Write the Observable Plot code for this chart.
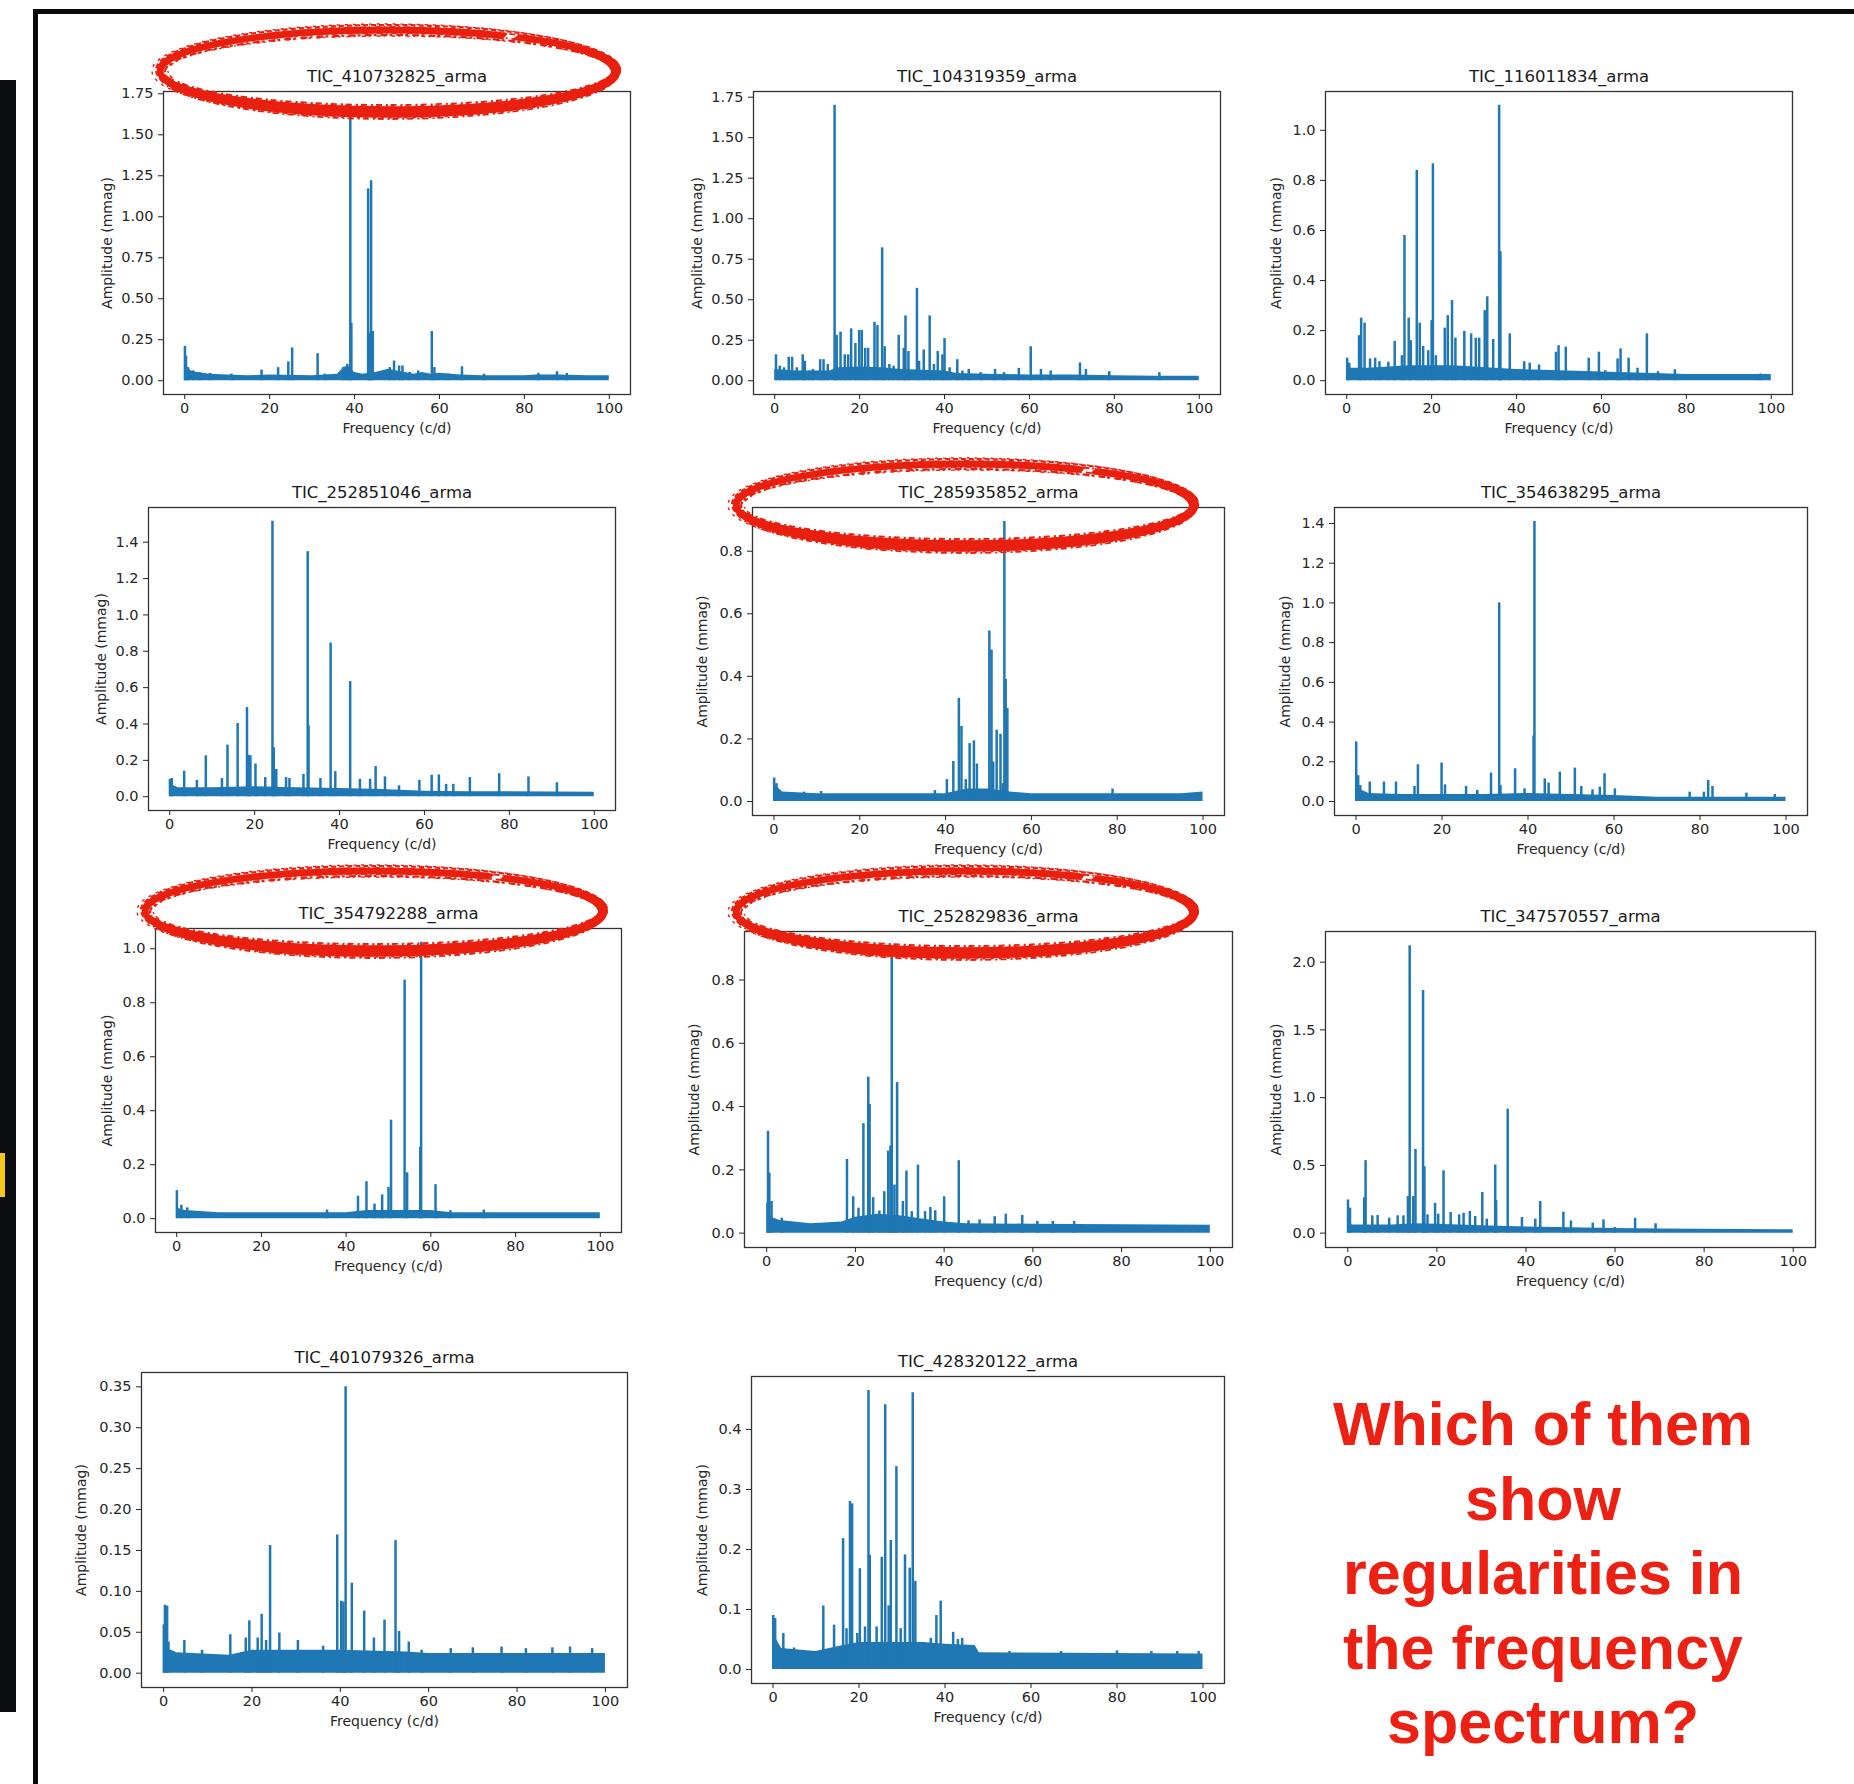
<!DOCTYPE html>
<html>
<head>
<meta charset="utf-8">
<script src="https://cdn.jsdelivr.net/npm/d3@7"></script>
<script src="https://cdn.jsdelivr.net/npm/@observablehq/plot@0.6"></script>
<style>
  html, body { margin: 0; padding: 0; background: #ffffff; }
  #page { position: relative; width: 1854px; height: 1784px; overflow: hidden; background: #ffffff; }
  .abs { position: absolute; }
  #question {
    position: absolute; left: 1243px; top: 1387px; width: 600px;
    text-align: center; color: #ec2113;
    font-family: "Liberation Sans", Arial, sans-serif; font-weight: bold;
    font-size: 61px; line-height: 74.5px;
  }
</style>
</head>
<body>
<div id="page"></div>
<script>
// ---------------- DATA ----------------
const titles = [
  "TIC_410732825_arma", "TIC_104319359_arma", "TIC_116011834_arma",
  "TIC_252851046_arma", "TIC_285935852_arma", "TIC_354638295_arma",
  "TIC_354792288_arma", "TIC_252829836_arma", "TIC_347570557_arma",
  "TIC_401079326_arma", "TIC_428320122_arma"
];
const xLabel = "Frequency (c/d)";
const yLabel = "Amplitude (mmag)";
const xTicks = [0, 20, 40, 60, 80, 100];

// y tick values per panel
const yTicks410732825 = [0, 0.25, 0.5, 0.75, 1.0, 1.25, 1.5, 1.75];
const yTicks104319359 = [0, 0.25, 0.5, 0.75, 1.0, 1.25, 1.5, 1.75];
const yTicks116011834 = [0, 0.2, 0.4, 0.6, 0.8, 1.0];
const yTicks252851046 = [0, 0.2, 0.4, 0.6, 0.8, 1.0, 1.2, 1.4];
const yTicks285935852 = [0, 0.2, 0.4, 0.6, 0.8];
const yTicks354638295 = [0, 0.2, 0.4, 0.6, 0.8, 1.0, 1.2, 1.4];
const yTicks354792288 = [0, 0.2, 0.4, 0.6, 0.8, 1.0];
const yTicks252829836 = [0, 0.2, 0.4, 0.6, 0.8];
const yTicks347570557 = [0, 0.5, 1.0, 1.5, 2.0];
const yTicks401079326 = [0, 0.05, 0.1, 0.15, 0.2, 0.25, 0.3, 0.35];
const yTicks428320122 = [0, 0.1, 0.2, 0.3, 0.4];

// peaks: [frequency (c/d), amplitude (mmag)]
const peaks410732825 = [[0.05,0.21],[0.3,0.15],[0.8,0.08],[2,0.06],[3.5,0.05],[6,0.045],[11,0.04],[18.1,0.065],[22,0.08],[24.4,0.115],[25.3,0.2],[31.3,0.165],[33,0.04],[37.3,0.08],[38.3,0.1],[39.0,1.68],[39.25,0.35],[43.2,1.17],[43.5,0.29],[43.9,1.22],[44.3,0.3],[48.3,0.08],[49.3,0.12],[50.5,0.09],[51.3,0.09],[53,0.05],[55,0.06],[58.2,0.3],[58.8,0.08],[62,0.04],[65.3,0.085],[70.5,0.04],[83.3,0.045],[87.7,0.055],[90,0.045]];
const peaks104319359 = [[0.3,0.16],[1.2,0.09],[2.2,0.08],[3.3,0.145],[4.1,0.145],[5.2,0.08],[6.6,0.16],[7.1,0.12],[8.2,0.06],[9,0.07],[10.7,0.13],[11.5,0.13],[12.5,0.10],[14.1,1.70],[14.6,0.28],[15.5,0.30],[16.5,0.16],[17.3,0.16],[18.0,0.32],[19.0,0.23],[19.9,0.31],[20.5,0.31],[21.3,0.2],[22,0.2],[23.5,0.36],[24.2,0.34],[25.3,0.82],[25.9,0.21],[27,0.1],[28,0.09],[29.2,0.28],[30.4,0.2],[30.8,0.40],[31.5,0.18],[33.5,0.57],[34,0.12],[35.1,0.19],[36.5,0.40],[37.5,0.1],[38.4,0.18],[39.5,0.16],[40,0.26],[41.2,0.08],[43,0.13],[44.2,0.06],[45.7,0.07],[48.5,0.05],[51.9,0.07],[54,0.05],[57.5,0.076],[60.3,0.21],[62.7,0.07],[65,0.06],[71.9,0.11],[73.3,0.07],[78.8,0.056],[90.6,0.05]];
const peaks116011834 = [[0.1,0.09],[0.6,0.07],[2.9,0.18],[3.4,0.25],[4.2,0.23],[5.5,0.087],[6.7,0.09],[7.7,0.076],[9.8,0.074],[11.3,0.157],[13,0.10],[13.6,0.58],[14.6,0.25],[15.1,0.16],[16.5,0.84],[17.2,0.23],[18,0.137],[19.2,0.12],[20,0.24],[20.3,0.866],[21,0.1],[23.1,0.21],[23.8,0.26],[24.8,0.32],[25.6,0.17],[27.7,0.197],[29.3,0.187],[30.4,0.17],[31.2,0.17],[32.5,0.28],[33.1,0.335],[34.5,0.165],[35.9,1.10],[36.2,0.515],[38.4,0.187],[41.8,0.076],[43.1,0.07],[45.3,0.063],[49.3,0.114],[49.9,0.14],[51.6,0.134],[57,0.09],[59.4,0.114],[60.9,0.04],[63.8,0.087],[64.5,0.127],[66.4,0.09],[68.5,0.05],[70.7,0.187],[73.3,0.036],[77.3,0.044],[97.5,0.027]];
const peaks252851046 = [[0.05,0.096],[0.5,0.1],[3.4,0.14],[6.4,0.09],[8.5,0.225],[12.3,0.1],[13.6,0.284],[16,0.403],[18.2,0.49],[18.6,0.228],[19,0.225],[20.2,0.18],[22.5,0.105],[24.2,1.515],[24.5,0.27],[25.1,0.15],[27.4,0.105],[28.2,0.1],[31.5,0.123],[32.5,1.348],[32.7,0.39],[35.5,0.1],[37.9,0.845],[39,0.138],[42.5,0.633],[44.8,0.096],[47.2,0.096],[48.5,0.166],[50.7,0.109],[54,0.06],[58.8,0.09],[61.7,0.118],[63.4,0.12],[65.1,0.068],[66.8,0.068],[70.7,0.105],[77.6,0.127],[84.5,0.109],[91.2,0.077]];
const peaks285935852 = [[0.05,0.075],[0.6,0.057],[7,0.03],[11,0.032],[37.5,0.035],[40.3,0.07],[41.8,0.128],[43.1,0.33],[43.7,0.24],[44.7,0.07],[45.6,0.185],[46.6,0.194],[47.3,0.12],[50.2,0.545],[50.7,0.484],[51.1,0.126],[51.9,0.228],[52.8,0.215],[53.3,0.057],[53.7,0.895],[54.0,0.39],[54.4,0.297],[78.9,0.04]];
const peaks354638295 = [[0.05,0.30],[0.5,0.13],[1,0.08],[3.2,0.098],[6.5,0.098],[9.3,0.098],[13.6,0.076],[14.4,0.185],[19.9,0.194],[20.7,0.084],[25.6,0.076],[28.2,0.056],[31.4,0.143],[33.3,1.0],[33.6,0.08],[37,0.165],[39.2,0.064],[41.3,0.33],[41.5,1.41],[43.9,0.114],[44.8,0.093],[47.4,0.148],[50.9,0.168],[52.4,0.076],[55,0.059],[56.7,0.072],[57.8,0.14],[60.2,0.064],[77.6,0.047],[80.9,0.047],[81.9,0.106],[82.9,0.076],[90.8,0.042],[97.4,0.035]];
const peaks354792288 = [[0.05,0.104],[1.1,0.05],[2.5,0.04],[35.5,0.032],[42.8,0.083],[44.8,0.137],[46.7,0.054],[48.5,0.088],[50.0,0.116],[50.6,0.365],[53.8,0.884],[54.4,0.17],[57.5,0.264],[57.7,1.024],[61.1,0.126],[64.6,0.03],[72.5,0.032]];
const peaks252829836 = [[0.3,0.322],[0.6,0.19],[1.1,0.1],[3.4,0.047],[18.1,0.233],[19.5,0.115],[20.7,0.079],[21.8,0.346],[22.9,0.493],[23.2,0.407],[24,0.112],[25.4,0.07],[26.5,0.131],[27.4,0.259],[27.9,0.275],[28.2,0.908],[28.8,0.152],[29.4,0.476],[30.7,0.1],[31.5,0.196],[32.7,0.068],[34.1,0.215],[35.7,0.068],[36.9,0.081],[38,0.071],[40,0.115],[43.3,0.229],[45.5,0.039],[48,0.042],[51.4,0.052],[53.9,0.06],[57.6,0.056],[61,0.037],[64.5,0.037],[69.3,0.037]];
const peaks347570557 = [[0.05,0.245],[0.5,0.184],[3.7,0.26],[4,0.535],[5.5,0.128],[6.7,0.13],[9.3,0.11],[11.2,0.128],[12.5,0.128],[13.5,0.27],[13.9,2.12],[14.7,0.27],[15.2,0.618],[16.9,1.79],[17.2,0.49],[17.9,0.135],[19.6,0.22],[20.3,0.14],[21.5,0.46],[23.1,0.152],[25,0.135],[26,0.147],[27.4,0.16],[28.6,0.123],[30.2,0.30],[31.2,0.103],[33.1,0.503],[33.3,0.24],[35.9,0.915],[39.1,0.115],[42.1,0.103],[43.2,0.233],[48.4,0.155],[50.1,0.09],[55,0.074],[57.4,0.098],[59.9,0.042],[64.5,0.11],[69.1,0.069]];
const peaks401079326 = [[0.05,0.059],[0.3,0.083],[0.8,0.082],[1.1,0.038],[4.7,0.04],[8.7,0.028],[15.1,0.047],[18.6,0.043],[19.4,0.064],[21.3,0.043],[22.2,0.072],[23.2,0.04],[24.1,0.156],[26.2,0.049],[30.4,0.04],[36.1,0.033],[39.3,0.169],[40.2,0.088],[40.7,0.087],[41.2,0.35],[42.6,0.11],[45.4,0.076],[47.6,0.043],[50,0.065],[52.5,0.162],[53.3,0.051],[55.5,0.038],[58.4,0.028],[65,0.03],[70,0.031],[76.5,0.032],[82,0.03],[88,0.031],[92,0.032],[97,0.03]];
const peaks428320122 = [[0.05,0.09],[0.5,0.085],[2.4,0.06],[4.9,0.036],[8,0.03],[11.7,0.106],[14.2,0.074],[16.3,0.218],[17.1,0.068],[17.9,0.28],[18.4,0.276],[19.6,0.06],[20.2,0.168],[21.4,0.071],[22.2,0.465],[22.5,0.19],[24.1,0.071],[25.3,0.187],[26.1,0.441],[26.9,0.106],[27.4,0.215],[28.7,0.338],[29.7,0.068],[30.7,0.191],[31.8,0.169],[32.5,0.461],[33.1,0.147],[35,0.045],[36.7,0.052],[38,0.09],[39,0.114],[41.9,0.062],[43,0.05],[44,0.052],[46.5,0.035],[55,0.03],[67,0.03],[80,0.031],[88,0.03],[94,0.03],[99,0.03]];

// noise floor (upper edge of the dense band): [frequency, amplitude]
const noise410732825 = [[0,0.2],[0.3,0.12],[0.8,0.07],[2,0.055],[4,0.045],[6,0.04],[10,0.035],[15,0.03],[20,0.035],[30,0.03],[36,0.04],[37.5,0.08],[38.5,0.09],[40,0.05],[42,0.04],[45,0.05],[48,0.07],[50,0.06],[52,0.05],[54,0.04],[56,0.05],[58,0.04],[60,0.045],[65,0.035],[70,0.03],[80,0.03],[83,0.035],[88,0.035],[95,0.03],[100,0.03]];
const noise104319359 = [[0,0.07],[5,0.06],[10,0.06],[13,0.06],[15,0.08],[20,0.085],[25,0.08],[30,0.07],[35,0.065],[40,0.06],[43,0.045],[50,0.04],[60,0.035],[70,0.035],[80,0.03],[90,0.028],[100,0.028]];
const noise116011834 = [[0,0.08],[1,0.05],[5,0.05],[10,0.055],[15,0.06],[20,0.06],[25,0.06],[30,0.055],[35,0.05],[40,0.045],[50,0.04],[60,0.035],[70,0.03],[80,0.025],[100,0.025]];
const noise252851046 = [[0,0.07],[2,0.05],[10,0.05],[20,0.055],[30,0.05],[40,0.045],[50,0.04],[60,0.03],[70,0.028],[100,0.025]];
const noise285935852 = [[0,0.07],[0.5,0.05],[2,0.03],[10,0.025],[40,0.025],[45,0.04],[50,0.04],[55,0.03],[60,0.025],[95,0.025],[100,0.03]];
const noise354638295 = [[0,0.12],[1,0.06],[3,0.04],[10,0.035],[30,0.035],[40,0.04],[50,0.035],[60,0.03],[70,0.022],[100,0.022]];
const noise354792288 = [[0,0.04],[2,0.03],[10,0.022],[40,0.022],[45,0.03],[60,0.03],[65,0.022],[100,0.022]];
const noise252829836 = [[0,0.1],[1,0.05],[3,0.04],[10,0.03],[17,0.035],[20,0.05],[25,0.06],[30,0.055],[35,0.045],[40,0.035],[45,0.03],[60,0.028],[100,0.025]];
const noise347570557 = [[0,0.12],[1,0.06],[5,0.06],[10,0.06],[15,0.07],[20,0.065],[30,0.055],[40,0.045],[50,0.04],[60,0.035],[70,0.03],[100,0.025]];
const noise401079326 = [[0,0.06],[1,0.03],[3,0.025],[15,0.022],[20,0.028],[40,0.028],[55,0.026],[60,0.024],[100,0.024]];
const noise428320122 = [[0,0.06],[2,0.035],[10,0.03],[15,0.038],[20,0.045],[30,0.045],[35,0.045],[40,0.042],[47,0.04],[48,0.028],[100,0.026]];

const peaksList = [peaks410732825, peaks104319359, peaks116011834, peaks252851046, peaks285935852, peaks354638295, peaks354792288, peaks252829836, peaks347570557, peaks401079326, peaks428320122];
const noiseList = [noise410732825, noise104319359, noise116011834, noise252851046, noise285935852, noise354638295, noise354792288, noise252829836, noise347570557, noise401079326, noise428320122];
const yTicksList = [yTicks410732825, yTicks104319359, yTicks116011834, yTicks252851046, yTicks285935852, yTicks354638295, yTicks354792288, yTicks252829836, yTicks347570557, yTicks401079326, yTicks428320122];
const yFormats = [".2f", ".2f", ".1f", ".1f", ".1f", ".1f", ".1f", ".1f", ".1f", ".2f", ".1f"];

// ---------------- LAYOUT (frame boxes on the page: left, top, right, bottom) ----------------
const frames = [
  [163, 91, 630, 394], [753, 91, 1220, 394], [1325, 91, 1792, 394],
  [148, 507, 615, 810], [752, 507, 1224, 815], [1334, 507, 1807, 815],
  [155, 928, 621, 1232], [744, 931, 1232, 1247], [1325, 931, 1815, 1247],
  [141, 1372, 627, 1687], [751, 1376, 1224, 1683]
];
const yLabelOffsets = [-56, -56, -49, -47, -50, -49, -48, -50, -49, -60, -49];

const blue = "#1f77b4";
const page = document.getElementById("page");

function addDiv(l, t, w, h, bg) {
  const d = document.createElement("div");
  d.className = "abs";
  Object.assign(d.style, {left: l + "px", top: t + "px", width: w + "px", height: h + "px", background: bg});
  page.appendChild(d);
}
// screenshot surroundings
addDiv(0, 80, 16, 1632, "#0b0d11");
addDiv(0, 1153, 5, 44, "#f4c81b");
addDiv(33, 9, 1821, 5, "#0a0a0a");
addDiv(33, 9, 5, 1775, "#0a0a0a");

const mL = 80, mT = 36, mR = 12, mB = 52;
frames.forEach((fr, i) => {
  const [L, T, R, B] = fr;
  const peaks = peaksList[i];
  const M = d3.max(peaks, d => d[1]);
  const plot = Plot.plot({
    width: R - L + mL + mR,
    height: B - T + mT + mB,
    marginLeft: mL, marginTop: mT, marginRight: mR, marginBottom: mB,
    x: {domain: [-5, 105]},
    y: {domain: [-0.05 * M, 1.05 * M]},
    style: {fontFamily: "'DejaVu Sans', sans-serif", fontSize: "14.5px", color: "#262626", background: "none", overflow: "visible"},
    marks: [
      Plot.areaY(noiseList[i], {x: d => d[0], y1: d => 0, y2: d => d[1], fill: blue}),
      Plot.ruleX(peaks, {x: d => d[0], y1: d => 0, y2: d => d[1], stroke: blue, strokeWidth: 2.5}),
      Plot.frame({stroke: "#333", strokeWidth: 1.3}),
      Plot.axisX({ticks: xTicks, tickSize: 5, tickPadding: 3, label: null}),
      Plot.axisY({ticks: yTicksList[i], tickFormat: d3.format(yFormats[i]), tickSize: 5, tickPadding: 5, label: null}),
      Plot.text([titles[i]], {text: d => d, frameAnchor: "top", lineAnchor: "middle", textAnchor: "middle", dy: -15, fontSize: 16.5, fill: "#1a1a1a"}),
      Plot.text([xLabel], {text: d => d, frameAnchor: "bottom", lineAnchor: "middle", textAnchor: "middle", dy: 34, fontSize: 14, fill: "#262626"}),
      Plot.text([yLabel], {text: d => d, frameAnchor: "left", lineAnchor: "middle", textAnchor: "middle", dx: yLabelOffsets[i], rotate: -90, fontSize: 14, fill: "#262626"})
    ]
  });
  plot.style.position = "absolute";
  plot.style.left = (L - mL) + "px";
  plot.style.top = (T - mT) + "px";
  page.appendChild(plot);
});

// ---------------- hand-drawn red ellipses around four titles ----------------
const ellipses = [[388, 71, 228, 41], [965, 505, 229, 41], [374, 911, 229, 40], [965, 912, 229, 41]];
const solidStrokes = [[0,0,0,0,6.5],[1,-2,2,-2,3.5],[-1,2,-2,2,3.5],[2,1,1,3,2.5],[-2,-1,-1,-3,2.5]];
const roughStrokes = [[0,-1,4,4,2.2,"5 3"],[1,1,-4,-4,2.2,"7 2 3 4"],[-2,0,6,6,1.4,"3 5"],[2,0,-6,-6,1.4,"4 3 2 6"],[0,2,2,5,1.8,"2 4 6 3"],[0,-2,-2,-5,1.8,"6 3 2 4"]];
const svg = d3.select(page).append("svg")
  .attr("width", 1854).attr("height", 1784)
  .style("position", "absolute").style("left", "0px").style("top", "0px");
ellipses.forEach(([cx, cy, rx, ry]) => {
  solidStrokes.forEach(([dx, dy, drx, dry, w]) => {
    svg.append("ellipse")
      .attr("cx", cx + dx).attr("cy", cy + dy)
      .attr("rx", rx + drx).attr("ry", ry + dry)
      .attr("fill", "none").attr("stroke", "#e9200f")
      .attr("stroke-width", w)
      .attr("pathLength", 1000)
      .attr("stroke-dasharray", "872 14 2000");
  });
  roughStrokes.forEach(([dx, dy, drx, dry, w, dash]) => {
    svg.append("ellipse")
      .attr("cx", cx + dx).attr("cy", cy + dy)
      .attr("rx", rx + drx).attr("ry", ry + dry)
      .attr("fill", "none").attr("stroke", "#e9200f")
      .attr("stroke-width", w)
      .attr("stroke-dasharray", dash);
  });
});

// ---------------- question text ----------------
const q = document.createElement("div");
q.id = "question";
q.innerHTML = "Which of them<br>show<br>regularities in<br>the frequency<br>spectrum?";
page.appendChild(q);
</script>
</body>
</html>
